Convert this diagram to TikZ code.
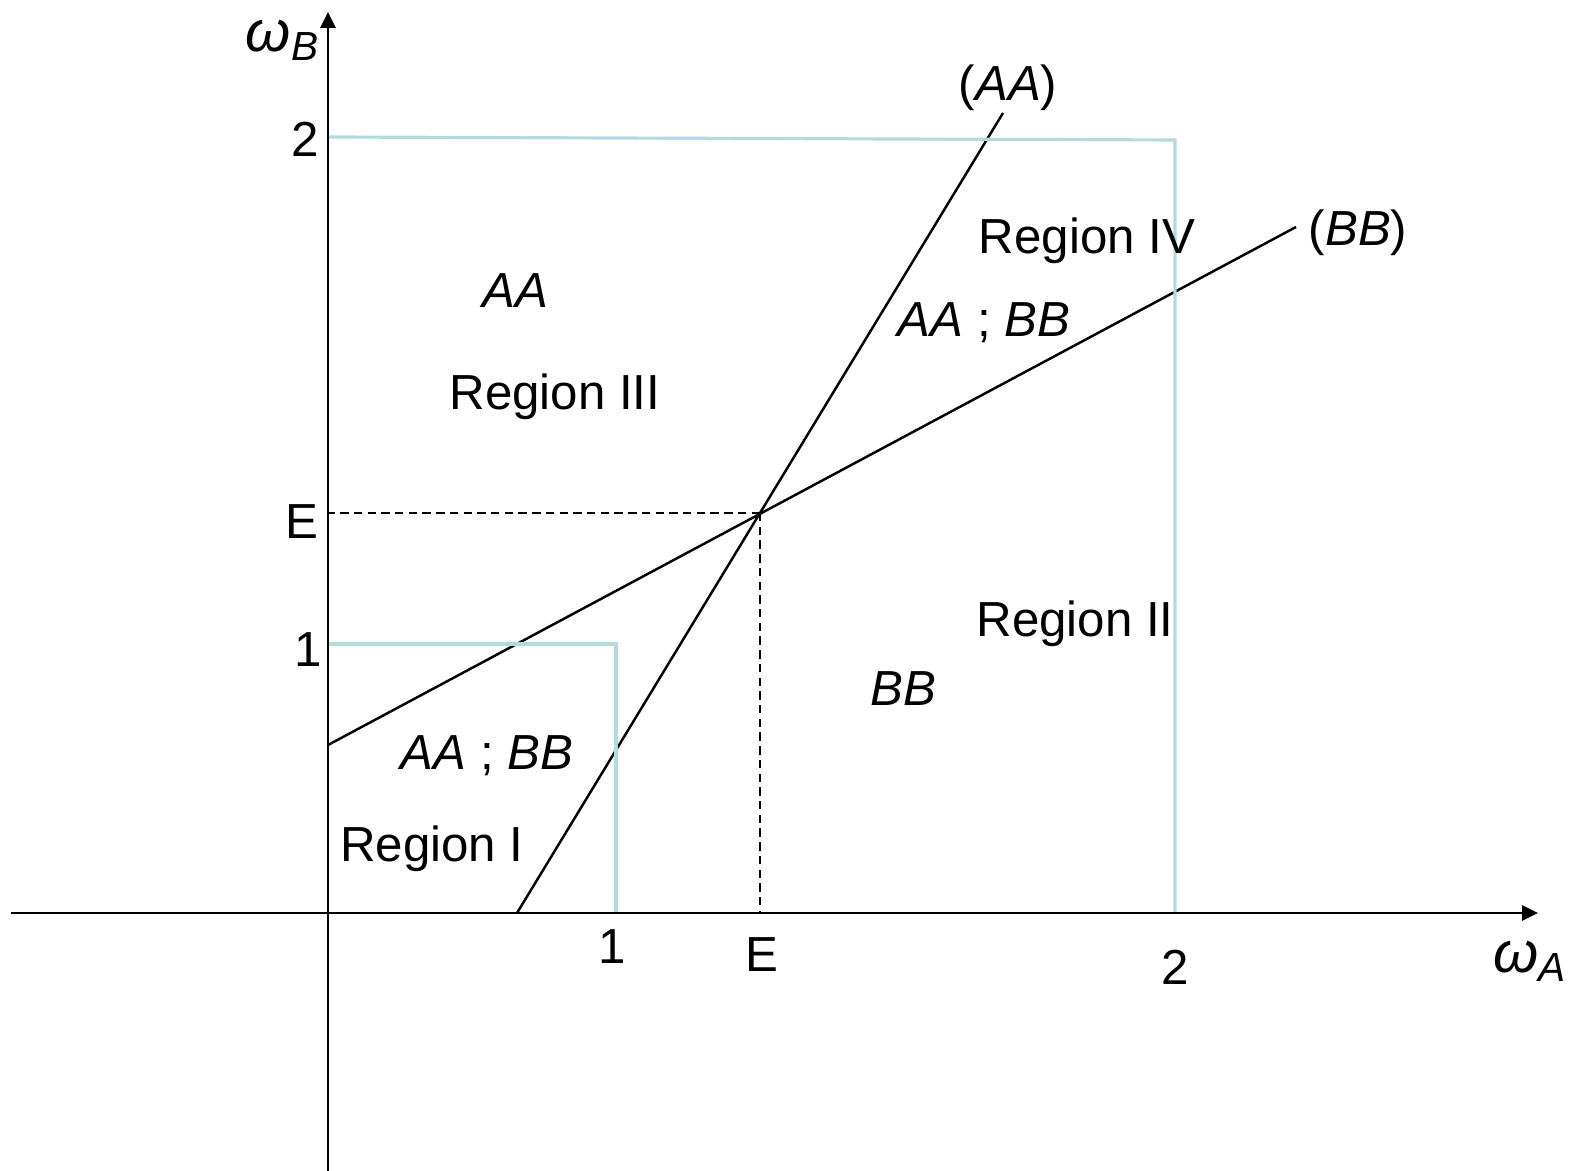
\documentclass[tikz,border=0pt]{standalone}
\usepackage{fontspec}
\setmainfont{Liberation Sans}
\usetikzlibrary{arrows.meta}
\definecolor{boxblue}{HTML}{B3DBDF}
\tikzset{
  ax/.style={-{Triangle[length=1.6mm,width=1.5mm]}, line width=0.75pt, black},
  crv/.style={line width=0.7pt, black},
  guide/.style={line width=0.9pt, color=boxblue},
  dsh/.style={line width=0.7pt, dash pattern=on 2.4pt off 1.5pt},
  lbl/.style={font=\fontsize{14}{16}\selectfont, inner sep=0pt},
  axlbl/.style={font=\fontsize{16.5}{18}\selectfont\itshape, inner sep=0pt},
}

\begin{document}
\begin{tikzpicture}[x=0.01cm, y=-0.01cm]
    \useasboundingbox (0,0) rectangle (1571,1171);
    % points of the chart, in pixels of the original
    \coordinate (O) at (328,913);
    \coordinate (xl) at (11,913);
    \coordinate (xr) at (1538,913);
    \coordinate (yb) at (328,1171);
    \coordinate (yt) at (328,12);
    \coordinate (eq) at (760,513);
    \coordinate (aa0) at (517,913);
    \coordinate (aa1) at (1003,113);
    \coordinate (bb0) at (328,745);
    \coordinate (bb1) at (1296,227);
    % the two lines and the dashed guides
    \draw[crv] (aa0) -- (aa1);
    \draw[crv] (bb0) -- (bb1);
    \draw[dsh] (eq) -- (eq -| O);
    \draw[dsh] (eq) -- (eq |- O);
    % unit and double squares
    \draw[guide] (328,644) -- (616,644) -- (616,913);
    \draw[guide] (328,137) -- (1175,140) -- (1175,913);
    % axes
    \draw[ax] (xl) -- (xr);
    \draw[ax] (yb) -- (yt);
    % axis labels
    \node[axlbl] (wB) at (283,40) {ω\textsubscript{B}};
    \node[axlbl] (wA) at (1530,961) {ω\textsubscript{A}};
    \node[lbl] (y2) at (305,139) {2};
    \node[lbl] (yE) at (302,522) {E};
    \node[lbl] (y1) at (308,650) {1};
    \node[lbl] (x1) at (612,947) {1};
    \node[lbl] (xE) at (762,955) {E};
    \node[lbl] (x2) at (1175,967) {2};
    \node[lbl] (lAA) at (1008,88) {(\textit{AA})};
    \node[lbl] (lBB) at (1358,233) {(\textit{BB})};
    % regions
    \node[lbl] (r3a) at (515,291) {\textit{AA}};
    \node[lbl] (r3) at (555,397) {Region III};
    \node[lbl] (r4) at (1087,241) {Region IV};
    \node[lbl] (r4a) at (984,323) {\textit{AA} ; \textit{BB}};
    \node[lbl] (r2) at (1075,624) {Region II};
    \node[lbl] (r2a) at (903,689) {\textit{BB}};
    \node[lbl] (r1a) at (487,756) {\textit{AA} ; \textit{BB}};
    \node[lbl] (r1) at (432,849) {Region I};
\end{tikzpicture}
\end{document}
